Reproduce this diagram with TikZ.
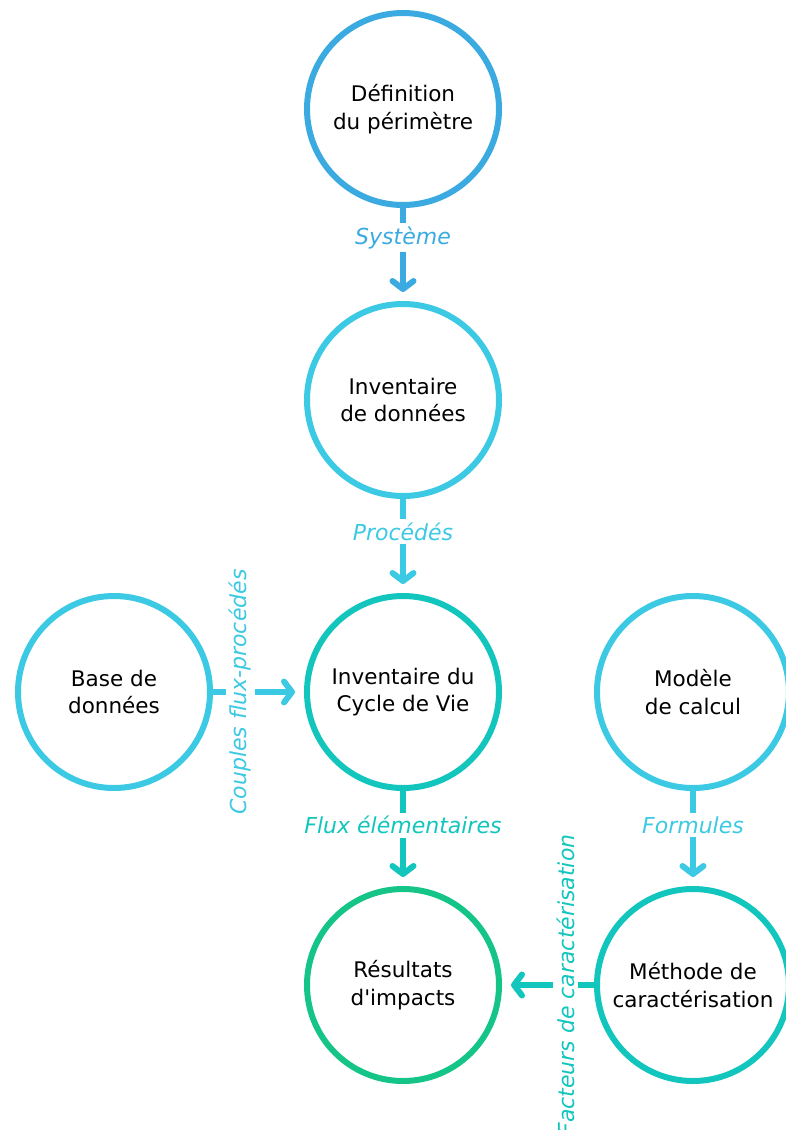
\documentclass[tikz,border=0pt]{standalone}
\usepackage{fontspec}
\setmainfont{DejaVu Sans}
\usetikzlibrary{arrows.meta}
\definecolor{bleuACV}{HTML}{3AAAE1}
\definecolor{cyanACV}{HTML}{3CC9E3}
\definecolor{turquoiseACV}{HTML}{12C6BE}
\definecolor{vertACV}{HTML}{15C588}
\tikzset{
  etape/.style={circle, draw=#1, line width=6pt, minimum size=192pt, inner sep=0pt, align=center, font=\fontsize{21.5}{27.5}\selectfont},
  fleche/.style={draw=#1, line width=6pt, -{Straight Barb[round,length=8pt,width=21pt]}, shorten >=9pt},
  etiquette/.style={fill=white, text=#1, inner sep=3.5pt, font=\fontsize{22}{27}\selectfont\itshape}
}

\begin{document}
\begin{tikzpicture}[x=1pt,y=1pt]
			\useasboundingbox (0,0) rectangle (786,-1130);
			\node[etape=bleuACV] (perimetre) at (403,-109) {Définition\\du périmètre};
			\node[etape=cyanACV] (inventaire) at (403,-400) {Inventaire\\de données};
			\node[etape=turquoiseACV] (icv) at (403,-692) {Inventaire du\\Cycle de Vie};
			\node[etape=vertACV] (resultats) at (403,-985) {Résultats\\d\textquotesingle impacts};
			\node[etape=cyanACV] (base) at (114,-692) {Base de\\données};
			\node[etape=cyanACV] (modele) at (693,-692) {Modèle\\de calcul};
			\node[etape=turquoiseACV] (methode) at (693,-985) {Méthode de\\caractérisation};
			\draw[fleche=bleuACV] (perimetre) -- node[etiquette=bleuACV, pos=0.32] (systeme) {Système} (inventaire);
			\draw[fleche=cyanACV] (inventaire) -- node[etiquette=cyanACV, pos=0.35] (procedes) {Procédés} (icv);
			\draw[fleche=turquoiseACV] (icv) -- node[etiquette=turquoiseACV, pos=0.36] (flux) {Flux élémentaires} (resultats);
			\draw[fleche=cyanACV] (base) -- node[etiquette=cyanACV, pos=0.3, rotate=90] (couples) {Couples flux-procédés} (icv);
			\draw[fleche=cyanACV] (modele) -- node[etiquette=cyanACV, pos=0.36] (formules) {Formules} (methode);
			\draw[fleche=turquoiseACV] (methode) -- node[etiquette=turquoiseACV, pos=0.31, rotate=90] (facteurs) {Facteurs de caractérisation} (resultats);
		\end{tikzpicture}
\end{document}
